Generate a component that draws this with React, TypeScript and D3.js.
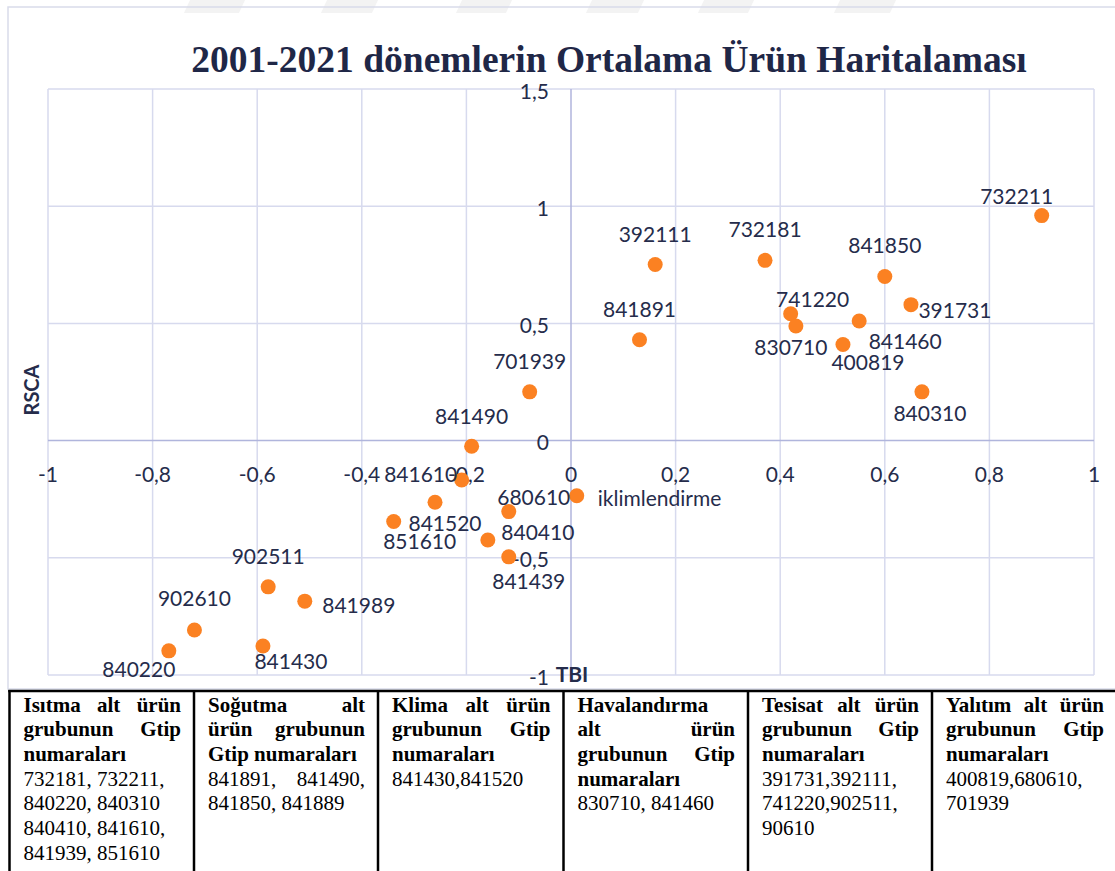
import React from 'react';
import * as d3 from 'd3';

const W = 1115;
const H = 871;

// ---- data ----
const codes = [
  '732211', '392111', '732181', '841850', '391731', '741220', '830710', '841460', '400819',
  '841891', '840310', '701939', '841490', '841610', '841520', '851610', '680610', '840410',
  '841439', 'iklimlendirme', '902511', '841989', '902610', '840220', '841430',
];
const tbiValues = [
  0.9, 0.161, 0.371, 0.6, 0.65, 0.42, 0.43, 0.551, 0.52,
  0.131, 0.671, -0.079, -0.19, -0.209, -0.26, -0.339, -0.119, -0.159,
  -0.119, 0.011, -0.579, -0.509, -0.72, -0.769, -0.589,
];
const rscaValues = [
  0.96, 0.751, 0.769, 0.7, 0.58, 0.541, 0.489, 0.51, 0.41,
  0.43, 0.208, 0.208, -0.024, -0.168, -0.263, -0.345, -0.303, -0.424,
  -0.496, -0.235, -0.624, -0.685, -0.808, -0.897, -0.876,
];
const yTickValues = [-1, -0.5, 0, 0.5, 1, 1.5];

const titleText = '2001-2021 dönemlerin Ortalama Ürün Haritalaması';
const xAxisTitle = 'TBI';
const yAxisTitle = 'RSCA';

const groupTitles = [
  ['Isıtma alt ürün', 'grubunun Gtip', 'numaraları'],
  ['Soğutma alt', 'ürün grubunun', 'Gtip numaraları'],
  ['Klima alt ürün', 'grubunun Gtip', 'numaraları'],
  ['Havalandırma', 'alt ürün', 'grubunun Gtip', 'numaraları'],
  ['Tesisat alt ürün', 'grubunun Gtip', 'numaraları'],
  ['Yalıtım alt ürün', 'grubunun Gtip', 'numaraları'],
];
const groupCodes = [
  ['732181, 732211,', '840220, 840310', '840410, 841610,', '841939, 851610'],
  ['841891, 841490,', '841850, 841889'],
  ['841430,841520'],
  ['830710, 841460'],
  ['391731,392111,', '741220,902511,', '90610'],
  ['400819,680610,', '701939'],
];

// ---- layout (not data) ----
const labelOffsets: [number, number, string][] = [
  [-25, -20, 'middle'], [0, -31, 'middle'], [0, -32, 'middle'], [0, -32, 'middle'], [44, 5, 'middle'],
  [22, -15, 'middle'], [-5, 21, 'middle'], [46, 19, 'middle'], [25, 17, 'middle'], [0, -31, 'middle'],
  [8, 21, 'middle'], [0, -31, 'middle'], [0, -31, 'middle'], [-41, -6, 'middle'], [10, 20, 'middle'],
  [26, 19, 'middle'], [25, -15, 'middle'], [50, -8, 'middle'], [20, 24, 'middle'], [21, 2, 'start'],
  [0, -31, 'middle'], [54, 3, 'middle'], [0, -32, 'middle'], [-30, 18, 'middle'], [28, 15, 'middle'],
];
const codeJustify = [
  [false, false, false, false],
  [true, false],
  [false],
  [false],
  [false, false, false],
  [false, false],
];
const colBorders = [9.5, 194, 378, 563.5, 748, 932, 1117];

const TEXT = '#252c4b';
const GRID = '#d7daee';
const AXIS = '#b0b5dc';
const DOT = '#fb8122';
const SANS = 'Lato, "Noto Sans", sans-serif';
const SERIF = '"Liberation Serif", "Times New Roman", serif';
const TABLE_FS = 21;

let ctx: CanvasRenderingContext2D | null = null;
function measure(s: string, font: string): number {
  if (!ctx) ctx = document.createElement('canvas').getContext('2d');
  if (!ctx) return s.length * 10;
  ctx.font = font;
  return ctx.measureText(s).width;
}

function Line({ text, left, right, y, bold, justify }: { text: string; left: number; right: number; y: number; bold: boolean; justify: boolean }) {
  const font = `${bold ? 'bold ' : ''}${TABLE_FS}px "Liberation Serif"`;
  const words = text.split(' ');
  const common = { fontFamily: SERIF, fontSize: TABLE_FS, fontWeight: bold ? 'bold' : 'normal', fill: '#000' } as const;
  if (justify && words.length > 1) {
    const ws = words.map((w) => measure(w, font));
    const total = ws.reduce((a, b) => a + b, 0);
    const gap = (right - left - total) / (words.length - 1);
    let x = left;
    return (
      <g>
        {words.map((w, i) => {
          const el = (
            <text key={i} x={x} y={y} {...common}>
              {w}
            </text>
          );
          x += ws[i] + gap;
          return el;
        })}
      </g>
    );
  }
  return (
    <text x={left} y={y} {...common} style={{ whiteSpace: 'pre' }}>
      {text}
    </text>
  );
}

export default function App() {
  const x = d3.scaleLinear().domain([-1, 1]).range([48, 1094]);
  const y = d3.scaleLinear().domain([-1, 1.5]).range([675, 89]);
  const loc = d3.formatLocale({ decimal: ',', thousands: '.', grouping: [3], currency: ['', ''], minus: '-' });
  const fmt = loc.format('.1~f');
  const xTicks = x.ticks(10);
  const [x0, x1] = x.range();
  const [yb, yt] = y.range();

  const watermark = [[190, 245], [327, 378], [462, 512], [592, 644], [704, 754], [840, 896]];

  const lineH = 24.7;
  const firstBase = 711.5;

  return (
    <svg width={W} height={H} style={{ position: 'absolute', left: 0, top: 0, display: 'block', background: '#fff' }}>
      {watermark.map(([a, b], i) => (
        <polygon key={i} points={`${a},0 ${b},0 ${b - 6},13 ${a - 6},13`} fill="#f3f3f3" />
      ))}
      {/* chart frame */}
      <rect x={8} y={7} width={W + 10} height={682} fill="none" stroke="#d9dbea" strokeWidth={1.5} />

      <text x={609} y={72} textAnchor="middle" fontFamily={SERIF} fontWeight="bold" fontSize={37.5} fill="#1f2747">
        {titleText}
      </text>

      {/* gridlines */}
      {xTicks.filter((t) => t !== 0).map((t) => (
        <line key={'vx' + t} x1={x(t)} x2={x(t)} y1={yt} y2={yb} stroke={GRID} strokeWidth={1.5} />
      ))}
      {yTickValues.filter((t) => t !== 0).map((t) => (
        <line key={'hy' + t} x1={x0} x2={x1} y1={y(t)} y2={y(t)} stroke={GRID} strokeWidth={1.5} />
      ))}
      {/* axes */}
      <line x1={x(0)} x2={x(0)} y1={yt} y2={yb} stroke={AXIS} strokeWidth={1.5} />
      <line x1={x0} x2={x1} y1={y(0)} y2={y(0)} stroke={AXIS} strokeWidth={1.5} />

      {/* tick labels */}
      {xTicks.map((t) => (
        <text key={'xl' + t} x={x(t)} y={y(0) + 33} textAnchor="middle" dominantBaseline="central" fontFamily={SANS} fontSize={21} fill={TEXT}>
          {fmt(t)}
        </text>
      ))}
      {yTickValues.map((t) => (
        <text key={'yl' + t} x={x(0) - 22} y={y(t) + 1} textAnchor="end" dominantBaseline="central" fontFamily={SANS} fontSize={21} fill={TEXT}>
          {fmt(t)}
        </text>
      ))}

      <text x={572} y={673} textAnchor="middle" dominantBaseline="central" fontFamily={SANS} fontWeight="bold" fontSize={21} fill={TEXT}>
        {xAxisTitle}
      </text>
      <text transform={`translate(31,390) rotate(-90)`} textAnchor="middle" dominantBaseline="central" fontFamily={SANS} fontWeight="bold" fontSize={20} fill={TEXT}>
        {yAxisTitle}
      </text>

      {/* points */}
      {codes.map((c, i) => (
        <circle key={'p' + i} cx={x(tbiValues[i])} cy={y(rscaValues[i])} r={7.5} fill={DOT} />
      ))}
      {codes.map((c, i) => {
        const [dx, dy, anchor] = labelOffsets[i];
        return (
          <text key={'l' + i} x={x(tbiValues[i]) + dx} y={y(rscaValues[i]) + dy} textAnchor={anchor as any} dominantBaseline="central" fontFamily={SANS} fontSize={21} fill={TEXT}>
            {c}
          </text>
        );
      })}

      {/* table */}
      <line x1={colBorders[0] - 1.25} x2={W} y1={691} y2={691} stroke="#000" strokeWidth={2.5} />
      {colBorders.map((b, i) => (
        <line key={'cb' + i} x1={b} x2={b} y1={690} y2={H} stroke="#000" strokeWidth={2.5} />
      ))}
      {groupTitles.map((lines, ci) => {
        const left = colBorders[ci] + 14;
        const right = colBorders[ci + 1] - 13;
        const all = [
          ...lines.map((l, li) => ({ text: l, bold: true, justify: li < lines.length - 1 })),
          ...groupCodes[ci].map((l, li) => ({ text: l, bold: false, justify: codeJustify[ci][li] })),
        ];
        return (
          <g key={'col' + ci}>
            {all.map((ln, li) => (
              <Line key={li} text={ln.text} left={left} right={right} y={firstBase + li * lineH} bold={ln.bold} justify={ln.justify} />
            ))}
          </g>
        );
      })}
    </svg>
  );
}
